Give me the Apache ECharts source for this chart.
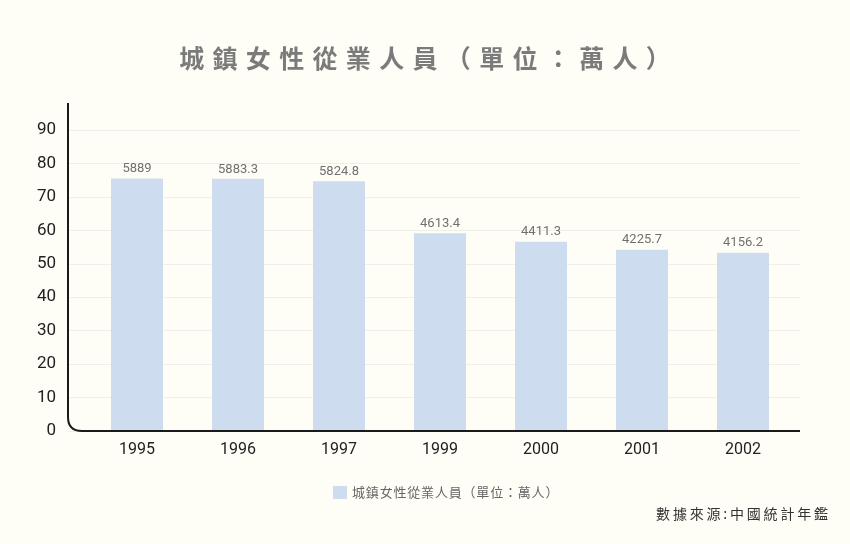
<!DOCTYPE html>
<html>
<head>
<meta charset="utf-8">
<script src="https://cdn.jsdelivr.net/npm/echarts@6/dist/echarts.min.js"></script>
<style>
html,body{margin:0;padding:0;background:#fffef6;}
#c{width:850px;height:544px;}
</style>
</head>
<body>
<div id="c"></div>
<script>
const titleText = '城鎮女性從業人員（單位：萬人）';
const seriesName = '城鎮女性從業人員（單位：萬人）';
const sourceText = '數據來源:中國統計年鑑';
const years = ['1995', '1996', '1997', '1999', '2000', '2001', '2002'];
// bar heights as drawn against the 0–90 axis
const barHeights = [75.5, 75.4, 74.7, 59.1, 56.6, 54.2, 53.3];
// labels printed above the bars
const barLabels = ['5889', '5883.3', '5824.8', '4613.4', '4411.3', '4225.7', '4156.2'];
const yMin = 0, yMax = 90, yStep = 10;

const spaced = s => s.split('').join('\u2004');

const chart = echarts.init(document.getElementById('c'), null, {renderer: 'canvas'});
const numFont = 'Roboto';
const axL = 68, axR = 800, axTop = 103, axBottom = 431, r = 14;
const axStyle = {stroke: '#1a1a1a', lineWidth: 2, fill: null};

chart.setOption({
  backgroundColor: '#fffef6',
  animation: false,
  title: {
    text: spaced(titleText),
    left: 'center',
    top: 41,
    textStyle: {color: '#7b7b7b', fontSize: 25, fontWeight: 'bold', fontFamily: 'Noto Sans CJK TC'}
  },
  legend: {
    left: 328, top: 481,
    itemWidth: 14, itemHeight: 13, itemGap: 6,
    icon: 'rect',
    textStyle: {color: '#666', fontSize: 13, fontFamily: 'Noto Sans CJK TC'},
    formatter: n => n.split('').join('\u200a'),
    data: [seriesName]
  },
  grid: [
    {left: axL, right: 850 - axR, top: 130, bottom: 544 - axBottom},
    {left: 86.5, right: 56.5, top: 130, bottom: 544 - axBottom}
  ],
  xAxis: [
    {type: 'category', gridIndex: 0, data: years, show: false},
    {type: 'category', gridIndex: 1, data: years,
     axisLine: {show: false}, axisTick: {show: false},
     axisLabel: {color: '#222', fontSize: 16, fontFamily: numFont, margin: 11}}
  ],
  yAxis: [
    {type: 'value', gridIndex: 0, min: yMin, max: yMax, interval: yStep,
     axisLine: {show: false}, axisTick: {show: false},
     axisLabel: {color: '#222', fontSize: 17, fontFamily: numFont, margin: 12},
     splitLine: {lineStyle: {color: '#efeeea', width: 1}}},
    {type: 'value', gridIndex: 1, min: yMin, max: yMax, interval: yStep, show: false,
     splitLine: {show: false}}
  ],
  graphic: [
    {type: 'line', silent: true, z: 10,
     shape: {x1: axL, y1: axTop, x2: axL, y2: axBottom - r}, style: axStyle},
    {type: 'bezierCurve', silent: true, z: 10,
     shape: {x1: axL, y1: axBottom - r, cpx1: axL, cpy1: axBottom, x2: axL + r, y2: axBottom}, style: axStyle},
    {type: 'line', silent: true, z: 10,
     shape: {x1: axL + r, y1: axBottom, x2: axR, y2: axBottom}, style: axStyle},
    {type: 'text', right: 22, top: 507,
     style: {text: sourceText.split('').join('\u2009'), fill: '#333', font: '14px "Noto Sans CJK TC"'}}
  ],
  series: [{
    name: seriesName,
    type: 'bar',
    xAxisIndex: 1, yAxisIndex: 1,
    barWidth: 52,
    data: barHeights,
    itemStyle: {color: '#cddcef'},
    label: {show: true, position: 'top', distance: 3, color: '#707070', fontSize: 13, fontFamily: numFont,
            formatter: p => barLabels[p.dataIndex]}
  }]
});
</script>
</body>
</html>
